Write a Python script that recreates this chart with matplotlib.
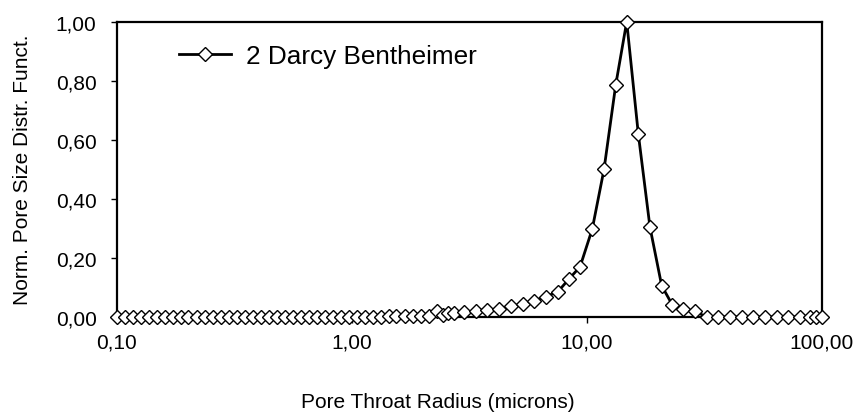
import matplotlib
matplotlib.use("Agg")
import matplotlib.pyplot as plt

plt.rcParams['font.family'] = ['Liberation Sans', 'DejaVu Sans']

# Pore throat radius (microns) and normalised pore size distribution
radius = [0.100, 0.108, 0.117, 0.127, 0.137, 0.148, 0.160, 0.173, 0.187, 0.202,
          0.219, 0.237, 0.256, 0.277, 0.300, 0.324, 0.351, 0.379, 0.410, 0.444,
          0.480, 0.519, 0.561, 0.607, 0.656, 0.710, 0.768, 0.830, 0.898, 0.971,
          1.05, 1.14, 1.23, 1.33, 1.44, 1.55, 1.68, 1.82, 1.97, 2.13, 2.30,
          2.45, 2.58, 2.73, 3.01, 3.37, 3.78, 4.24, 4.76, 5.34, 5.97,
          6.69, 7.53, 8.41, 9.37, 10.56, 11.85, 13.29, 14.80, 16.58, 18.59,
          20.85, 23.14, 25.62, 28.90, 32.40, 36.30, 40.70, 45.60, 51.20, 57.40,
          64.40, 72.10, 80.80, 89.20, 94.60, 100.0]
psd = [0.0, 0.0, 0.0, 0.0, 0.0, 0.0, 0.0, 0.0, 0.0, 0.0,
       0.0, 0.0, 0.0, 0.0, 0.0, 0.0, 0.0, 0.0, 0.0, 0.0,
       0.0, 0.0, 0.0, 0.0, 0.0, 0.0, 0.0, 0.0, 0.0, 0.0,
       0.0, 0.0, 0.0, 0.0, 0.002, 0.002, 0.003, 0.003, 0.004, 0.005, 0.022,
       0.006, 0.015, 0.012, 0.016, 0.021, 0.025, 0.027, 0.036, 0.044, 0.055,
       0.069, 0.085, 0.129, 0.170, 0.298, 0.500, 0.786, 1.000, 0.620, 0.304,
       0.106, 0.041, 0.027, 0.019, 0.0, 0.0, 0.0, 0.0, 0.0, 0.0,
       0.0, 0.0, 0.0, 0.0, 0.0, 0.0]

x_ticks = [0.1, 1, 10, 100]
x_labels = ['0,10', '1,00', '10,00', '100,00']
y_ticks = [0.0, 0.2, 0.4, 0.6, 0.8, 1.0]
y_labels = ['0,00', '0,20', '0,40', '0,60', '0,80', '1,00']

fig = plt.figure(figsize=(8.61, 4.14), dpi=100)
ax = fig.add_axes([116.7 / 861, 1 - 318 / 414, 705 / 861, 295.3 / 414])

ax.plot(radius, psd, color='black', lw=2, marker='D', ms=7.5,
        mfc='white', mec='black', mew=1.0, clip_on=False, zorder=5,
        label='2 Darcy Bentheimer')

ax.set_xscale('log')
ax.set_xlim(0.1, 100)
ax.set_ylim(0, 1.0)
ax.set_xticks(x_ticks)
ax.set_xticklabels(x_labels)
ax.xaxis.set_minor_locator(matplotlib.ticker.NullLocator())
ax.set_yticks(y_ticks)
ax.set_yticklabels(y_labels)

for s in ax.spines.values():
    s.set_linewidth(1.6)
    s.set_color('black')
ax.tick_params(axis='both', direction='out', length=4.5, width=1,
               labelsize=15, colors='black')
ax.tick_params(axis='y', pad=10)
ax.tick_params(axis='x', pad=7)

fig.text(23 / 861, 1 - 170 / 414, 'Norm. Pore Size Distr. Funct.', rotation=90,
         ha='center', va='center', fontsize=15)
fig.text(438 / 861, 1 - 403 / 414, 'Pore Throat Radius (microns)',
         ha='center', va='center', fontsize=15)

ax.legend(loc='center left', bbox_to_anchor=(179 / 861, 1 - 57 / 414),
          bbox_transform=fig.transFigure, frameon=False, fontsize=18.8,
          borderpad=0, borderaxespad=0, handlelength=2.0, handletextpad=0.55)

fig.savefig('out.png', dpi=100)
